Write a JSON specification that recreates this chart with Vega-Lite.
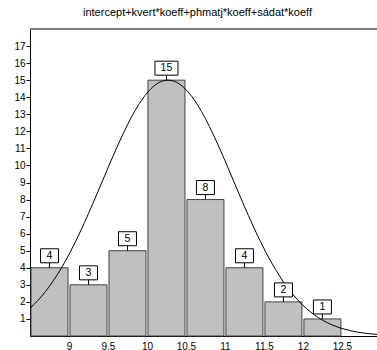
{
  "$schema": "https://vega.github.io/schema/vega-lite/v6.json",
  "autosize": "none",
  "padding": {"left": 30, "top": 29, "right": 0, "bottom": 14},
  "width": 347,
  "height": 307,
  "background": "white",
  "view": {"stroke": null},
  "config": {"font": "Liberation Sans", "axis": {"labelOverlap": false}},
  "title": {"text": "intercept+kvert*koeff+phmatj*koeff+sádat*koeff", "fontSize": 11, "fontWeight": "normal", "font": "Liberation Sans", "color": "#000000", "offset": 11, "anchor": "middle", "dx": -6},
  "datasets": {
    "bars": [
      {"start": 8.5, "end": 9.0, "mid": 8.75, "count": 4},
      {"start": 9.0, "end": 9.5, "mid": 9.25, "count": 3},
      {"start": 9.5, "end": 10.0, "mid": 9.75, "count": 5},
      {"start": 10.0, "end": 10.5, "mid": 10.25, "count": 15},
      {"start": 10.5, "end": 11.0, "mid": 10.75, "count": 8},
      {"start": 11.0, "end": 11.5, "mid": 11.25, "count": 4},
      {"start": 11.5, "end": 12.0, "mid": 11.75, "count": 2},
      {"start": 12.0, "end": 12.5, "mid": 12.25, "count": 1}
    ],
    "curve": [
      {"x": 8.5, "y": 1.629}, {"x": 8.6, "y": 2.079}, {"x": 8.7, "y": 2.615}, {"x": 8.8, "y": 3.245},
      {"x": 8.9, "y": 3.967}, {"x": 9.0, "y": 4.784}, {"x": 9.1, "y": 5.687}, {"x": 9.2, "y": 6.664},
      {"x": 9.3, "y": 7.701}, {"x": 9.4, "y": 8.774}, {"x": 9.5, "y": 9.855}, {"x": 9.6, "y": 10.913},
      {"x": 9.7, "y": 11.916}, {"x": 9.8, "y": 12.827}, {"x": 9.9, "y": 13.612}, {"x": 10.0, "y": 14.245},
      {"x": 10.1, "y": 14.696}, {"x": 10.2, "y": 14.948}, {"x": 10.27, "y": 15.0}, {"x": 10.3, "y": 14.99},
      {"x": 10.4, "y": 14.822}, {"x": 10.5, "y": 14.448}, {"x": 10.6, "y": 13.886}, {"x": 10.7, "y": 13.158},
      {"x": 10.8, "y": 12.292}, {"x": 10.9, "y": 11.323}, {"x": 11.0, "y": 10.282}, {"x": 11.1, "y": 9.207},
      {"x": 11.2, "y": 8.127}, {"x": 11.3, "y": 7.073}, {"x": 11.4, "y": 6.069}, {"x": 11.5, "y": 5.135},
      {"x": 11.6, "y": 4.283}, {"x": 11.7, "y": 3.522}, {"x": 11.8, "y": 2.855}, {"x": 11.9, "y": 2.283},
      {"x": 12.0, "y": 1.799}, {"x": 12.1, "y": 1.398}, {"x": 12.2, "y": 1.071}, {"x": 12.3, "y": 0.809},
      {"x": 12.4, "y": 0.602}, {"x": 12.5, "y": 0.442}, {"x": 12.6, "y": 0.32}, {"x": 12.7, "y": 0.228},
      {"x": 12.8, "y": 0.161}, {"x": 12.9, "y": 0.112}, {"x": 12.95, "y": 0.092}
    ]
  },
  "layer": [
    {
      "data": {"name": "bars"},
      "mark": {"type": "rect", "fill": "#c0c0c0", "stroke": "#404040", "strokeWidth": 1, "xOffset": 1, "x2Offset": -1},
      "encoding": {
        "x": {"field": "start", "type": "quantitative",
              "scale": {"domain": [8.5, 12.95], "nice": false, "zero": false},
              "axis": {"values": [9, 9.5, 10, 10.5, 11, 11.5, 12, 12.5], "format": "~g", "title": null, "grid": false, "ticks": false,
                       "labelPadding": 5, "labelFontSize": 10, "labelColor": "#000000", "labelFont": "Liberation Sans",
                       "domainColor": "#000000", "domainWidth": 1, "labelFlush": false, "labelOverlap": false}},
        "x2": {"field": "end"},
        "y": {"field": "count", "type": "quantitative",
              "scale": {"domain": [0, 18], "nice": false},
              "axis": {"values": [1,2,3,4,5,6,7,8,9,10,11,12,13,14,15,16,17], "tickCount": 17, "title": null, "grid": false,
                       "tickSize": 4, "tickColor": "#000000", "labelPadding": 1, "labelFontSize": 10,
                       "labelColor": "#000000", "labelFont": "Liberation Sans", "domainColor": "#000000",
                       "labelFlush": false, "labelOverlap": false, "labelBound": false}},
        "y2": {"datum": 0}
      }
    },
    {
      "data": {"name": "curve"},
      "mark": {"type": "line", "color": "#000000", "strokeWidth": 1, "interpolate": "monotone"},
      "encoding": {
        "x": {"field": "x", "type": "quantitative"},
        "y": {"field": "y", "type": "quantitative"}
      }
    },
    {
      "data": {"name": "bars"},
      "mark": {"type": "rule", "color": "#000000", "strokeWidth": 1, "y2Offset": -5},
      "encoding": {
        "x": {"field": "mid", "type": "quantitative"},
        "y": {"field": "count", "type": "quantitative"},
        "y2": {"field": "count"}
      }
    },
    {
      "data": {"name": "bars"},
      "transform": [{"filter": "datum.count < 10"}],
      "mark": {"type": "rect", "fill": "white", "stroke": "#000000", "strokeWidth": 1, "xOffset": -9, "x2Offset": 9, "yOffset": -19, "y2Offset": -5},
      "encoding": {
        "x": {"field": "mid", "type": "quantitative"},
        "x2": {"field": "mid"},
        "y": {"field": "count", "type": "quantitative"},
        "y2": {"field": "count"}
      }
    },
    {
      "data": {"name": "bars"},
      "transform": [{"filter": "datum.count >= 10"}],
      "mark": {"type": "rect", "fill": "white", "stroke": "#000000", "strokeWidth": 1, "xOffset": -11.5, "x2Offset": 11.5, "yOffset": -19, "y2Offset": -5},
      "encoding": {
        "x": {"field": "mid", "type": "quantitative"},
        "x2": {"field": "mid"},
        "y": {"field": "count", "type": "quantitative"},
        "y2": {"field": "count"}
      }
    },
    {
      "data": {"name": "bars"},
      "mark": {"type": "text", "fontSize": 10.5, "font": "Liberation Sans", "color": "#000000", "align": "center", "baseline": "middle", "yOffset": -12},
      "encoding": {
        "x": {"field": "mid", "type": "quantitative"},
        "y": {"field": "count", "type": "quantitative"},
        "text": {"field": "count", "type": "quantitative"}
      }
    },
    {
      "data": {"values": [{}]},
      "mark": {"type": "rule", "color": "#000000", "strokeWidth": 1},
      "encoding": {"y": {"datum": 18}}
    }
  ]
}
